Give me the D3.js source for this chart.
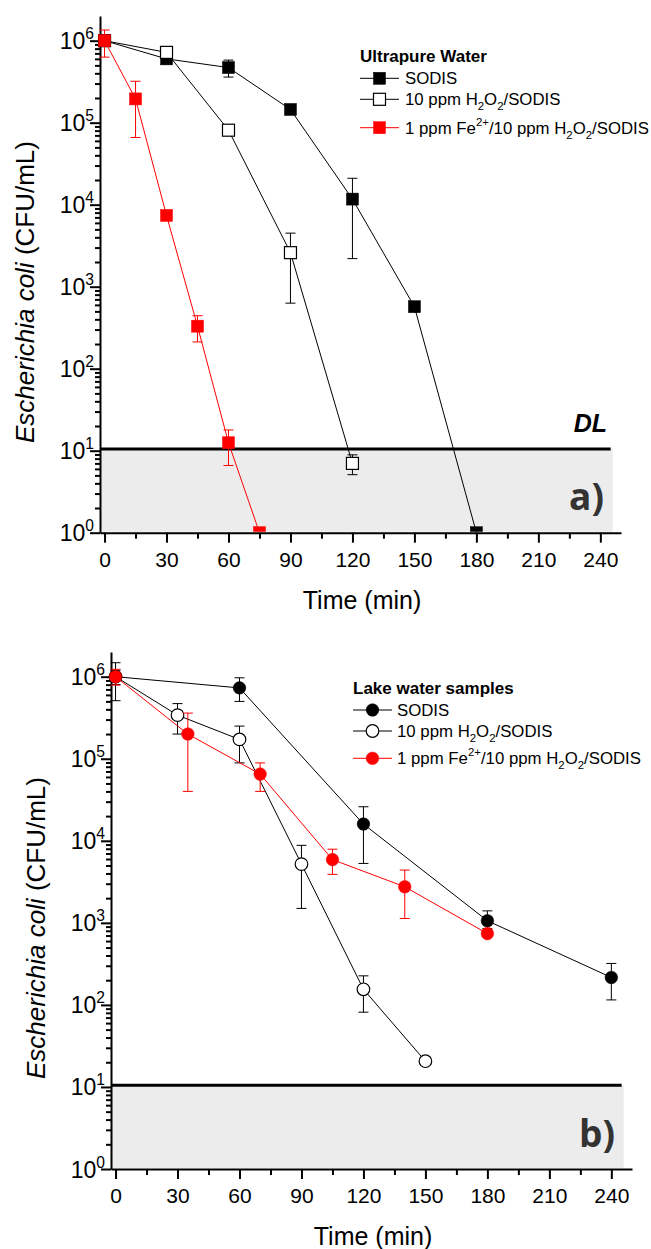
<!DOCTYPE html>
<html>
<head>
<meta charset="utf-8">
<script src="https://cdn.jsdelivr.net/npm/d3@7"></script>
<style>
  body { margin: 0; background: #fff; }
  svg { display: block; font-family: 'Liberation Sans', Arial, sans-serif; }
</style>
</head>
<body>
<svg width="651" height="1249"></svg>
<script>
// DATA - a) ultrapure water
const timeSodisA = [0, 30, 60, 90, 120, 150, 180];
const sodisA   = [1e6, 6.0e5, 4.7e5, 1.45e5, 1.17e4, 570, 1];
const sodisAHi = [1.15e6, 6.6e5, 5.8e5, 1.55e5, 2.1e4, 600, 1];
const sodisALo = [8.5e5, 5.5e5, 3.6e5, 1.35e5, 2.2e3, 540, 1];

const timeH2o2A = [0, 30, 60, 90, 120];
const h2o2A   = [1e6, 7.2e5, 8.1e4, 2.6e3, 7.0];
const h2o2AHi = [1.1e6, 8.0e5, 8.9e4, 4.5e3, 8.9];
const h2o2ALo = [9.0e5, 6.4e5, 7.3e4, 630, 5.1];

const timeFeA = [0, 15, 30, 45, 60, 75];
const feA   = [1e6, 1.95e5, 7.4e3, 330, 12.5, 1];
const feAHi = [1.35e6, 3.2e5, 7.8e3, 443, 17.9, 1];
const feALo = [6.3e5, 6.6e4, 7.0e3, 212, 6.6, 1];

// DATA - b) lake water
const timeSodisB = [0, 60, 120, 180, 240];
const sodisB   = [1e6, 7.3e5, 1.6e4, 1.06e3, 216];
const sodisBHi = [1.48e6, 9.7e5, 2.6e4, 1.4e3, 320];
const sodisBLo = [5.1e5, 5.0e5, 5.3e3, 850, 115];

const timeH2o2B = [0, 30, 60, 90, 120, 150];
const h2o2B   = [1e6, 3.4e5, 1.72e5, 5.2e3, 155, 20.6];
const h2o2BHi = [1.2e6, 4.7e5, 2.5e5, 8.8e3, 226, 20.6];
const h2o2BLo = [8.0e5, 2.0e5, 8.9e4, 1.5e3, 81.5, 20.6];

const timeFeB = [0, 35, 70, 105, 140, 180];
const feB   = [1e6, 2.0e5, 6.5e4, 5.9e3, 2.75e3, 740];
const feBHi = [1.23e6, 3.6e5, 8.9e4, 7.9e3, 4.4e3, 800];
const feBLo = [7.9e5, 4.0e4, 4.0e4, 3.9e3, 1.13e3, 680];

// TICKS / LABELS
const xMajor = [0, 30, 60, 90, 120, 150, 180, 210, 240];
const xMinor = [15, 45, 75, 105, 135, 165, 195, 225];
const yMajor = [1, 10, 100, 1e3, 1e4, 1e5, 1e6];
const detectionLimit = 10.5;

const labelSodis = [['SODIS']];
const labelH2o2 = [['10 ppm H'], ['2', 'sub'], ['O'], ['2', 'sub'], ['/SODIS']];
const labelFe = [['1 ppm Fe'], ['2+', 'sup'], ['/10 ppm H'], ['2', 'sub'], ['O'], ['2', 'sub'], ['/SODIS']];

const svg = d3.select('svg');

const zip = (t, v, hi, lo) => t.map((d, i) => ({ t: d, v: v[i], hi: hi[i], lo: lo[i] }));

const panels = [
  {
    id: 'a', left: 100, top: 16, width: 521, height: 516.7,
    tag: 'a)', showDL: true,
    legend: { x: 360, y: 62, title: 'Ultrapure Water', rows: [78.3, 99.3, 127.7], lineW: 39, textX: 405 },
    series: [
      { label: labelSodis, data: zip(timeSodisA, sodisA, sodisAHi, sodisALo), color: '#000', fill: '#000', shape: 'square' },
      { label: labelH2o2, data: zip(timeH2o2A, h2o2A, h2o2AHi, h2o2ALo), color: '#000', fill: '#fff', shape: 'square' },
      { label: labelFe, data: zip(timeFeA, feA, feAHi, feALo), color: '#ff0000', fill: '#ff0000', shape: 'square' }
    ]
  },
  {
    id: 'b', left: 111, top: 652, width: 521, height: 517,
    tag: 'b)', showDL: false,
    legend: { x: 353, y: 694, title: 'Lake water samples', rows: [710, 731, 758.3], lineW: 39, textX: 397 },
    series: [
      { label: labelSodis, data: zip(timeSodisB, sodisB, sodisBHi, sodisBLo), color: '#000', fill: '#000', shape: 'circle' },
      { label: labelH2o2, data: zip(timeH2o2B, h2o2B, h2o2BHi, h2o2BLo), color: '#000', fill: '#fff', shape: 'circle' },
      { label: labelFe, data: zip(timeFeB, feB, feBHi, feBLo), color: '#ff0000', fill: '#ff0000', shape: 'circle' }
    ]
  }
];

// text with sub/superscripts
function richText(text, parts, size, supShift = -8) {
  let off = 0;
  parts.forEach(([s, kind]) => {
    const next = kind === 'sub' ? 5 : kind === 'sup' ? supShift : 0;
    text.append('tspan')
      .attr('font-size', kind ? size * 0.68 : size)
      .attr('dy', next - off)
      .text(s);
    off = next;
  });
}

function marker(sel, s, cx, cy) {
  if (s.shape === 'square') {
    sel.append('rect')
      .attr('x', cx - 6)
      .attr('y', cy - 6)
      .attr('width', 12)
      .attr('height', 12)
      .attr('fill', s.fill)
      .attr('stroke', s.color)
      .attr('stroke-width', s.fill === '#fff' ? 1.2 : 0.5);
  } else {
    sel.append('circle')
      .attr('cx', cx)
      .attr('cy', cy)
      .attr('r', 6.3)
      .attr('fill', s.fill)
      .attr('stroke', s.color)
      .attr('stroke-width', s.fill === '#fff' ? 1.2 : 0.5);
  }
}

panels.forEach(p => {
  const x = d3.scaleLinear().domain([-2.2, 250]).range([0, p.width]);
  const y = d3.scaleLog().domain([1, 2e6]).range([p.height, 0]);

  const g = svg
    .append('g')
      .attr('transform', `translate(${p.left}, ${p.top})`);

  // below-DL zone
  g.append('rect')
    .attr('x', 0)
    .attr('y', y(detectionLimit))
    .attr('width', x(246))
    .attr('height', y(1) - y(detectionLimit) - 1)
    .attr('fill', '#ececec');

  g.append('line')
    .attr('x1', 0)
    .attr('x2', x(245))
    .attr('y1', y(detectionLimit))
    .attr('y2', y(detectionLimit))
    .attr('stroke', '#000')
    .attr('stroke-width', 3);

  // AXES
  const yMinor = [];
  yMajor.forEach(d => { for (let m = 2; m <= 9; m++) if (d * m < 2e6) yMinor.push(d * m); });

  g.append('g')
    .call(d3.axisLeft(y).tickValues(yMinor).tickSize(5).tickSizeOuter(0).tickFormat(''))
    .call(a => a.select('.domain').remove());

  const yAxis = g.append('g')
    .call(d3.axisLeft(y).tickValues(yMajor).tickSize(10).tickSizeOuter(0).tickFormat(''))
    .attr('font-family', null);
  yAxis.selectAll('.tick text').remove();
  yAxis.selectAll('.tick')
    .append('text')
      .attr('x', -6)
      .attr('y', 8)
      .attr('fill', '#000')
      .attr('text-anchor', 'end')
      .each(function(d) {
        richText(d3.select(this), [['10'], [String(Math.round(Math.log10(d))), 'sup']], 23, -10);
      });

  g.append('g')
    .attr('transform', `translate(0, ${p.height})`)
    .call(d3.axisBottom(x).tickValues(xMinor).tickSize(6).tickSizeOuter(0).tickFormat(''))
    .call(a => a.select('.domain').remove());

  g.append('g')
    .attr('transform', `translate(0, ${p.height})`)
    .call(d3.axisBottom(x).tickValues(xMajor).tickSize(10).tickSizeOuter(0).tickPadding(9))
    .attr('font-size', 21)
    .attr('font-family', null);

  g.selectAll('.domain, .tick line')
    .attr('stroke', '#000')
    .attr('stroke-width', 2);

  // axis titles
  g.append('text')
    .attr('x', 262)
    .attr('y', p.height + 76)
    .attr('text-anchor', 'middle')
    .attr('font-size', 25)
    .text('Time (min)');

  const yl = g.append('text')
    .attr('transform', `translate(-66, 276) rotate(-90)`)
    .attr('text-anchor', 'middle')
    .attr('font-size', 26);
  yl.append('tspan').attr('font-style', 'italic').text('Escherichia coli');
  yl.append('tspan').text(' (CFU/mL)');

  // DATA
  g.append('clipPath')
    .attr('id', `clip-${p.id}`)
    .append('rect')
      .attr('x', -20)
      .attr('y', -20)
      .attr('width', p.width + 40)
      .attr('height', p.height + 19);

  const plot = g.append('g').attr('clip-path', `url(#clip-${p.id})`);
  const line = d3.line().x(d => x(d.t)).y(d => y(d.v));

  p.series.forEach(s => {
    plot.append('path')
      .attr('d', line(s.data))
      .attr('fill', 'none')
      .attr('stroke', s.color)
      .attr('stroke-width', 1);

    const eb = plot.append('g')
      .attr('stroke', s.color)
      .attr('stroke-width', 1);
    s.data.filter(d => d.hi !== d.lo).forEach(d => {
      const cx = x(d.t);
      eb.append('line').attr('x1', cx).attr('x2', cx).attr('y1', y(d.hi)).attr('y2', y(d.lo));
      eb.append('line').attr('x1', cx - 5).attr('x2', cx + 5).attr('y1', y(d.hi)).attr('y2', y(d.hi));
      eb.append('line').attr('x1', cx - 5).attr('x2', cx + 5).attr('y1', y(d.lo)).attr('y2', y(d.lo));
    });

    const mk = plot.append('g');
    s.data.forEach(d => marker(mk, s, x(d.t), y(d.v)));
  });

  // DL / panel tag
  if (p.showDL) {
    g.append('text')
      .attr('x', 507)
      .attr('y', y(detectionLimit) - 16.5)
      .attr('text-anchor', 'end')
      .attr('font-family', "'Liberation Sans', Arial, sans-serif")
      .attr('font-weight', 700)
      .attr('font-style', 'italic')
      .attr('font-size', 25)
      .text('DL');
  }

  g.append('text')
    .attr('x', 504)
    .attr('y', p.height - 22.5)
    .attr('text-anchor', 'end')
    .attr('font-family', "'Open Sans', sans-serif")
    .attr('font-weight', 700)
    .attr('font-size', 37)
    .attr('fill', '#333')
    .text(p.tag);

  // LEGEND
  const L = p.legend;
  const leg = svg.append('g');
  leg.append('text')
    .attr('x', L.x)
    .attr('y', L.y)
    .attr('font-weight', 700)
    .attr('font-size', 17)
    .text(L.title);

  p.series.forEach((s, i) => {
    const cy = L.rows[i];
    leg.append('line')
      .attr('x1', L.x)
      .attr('x2', L.x + L.lineW)
      .attr('y1', cy)
      .attr('y2', cy)
      .attr('stroke', s.color)
      .attr('stroke-width', 1);
    marker(leg, s, L.x + L.lineW / 2, cy);
    const t = leg.append('text')
      .attr('x', L.textX)
      .attr('y', cy + 5.8);
    richText(t, s.label, 16.8);
  });
});
</script>
</body>
</html>
